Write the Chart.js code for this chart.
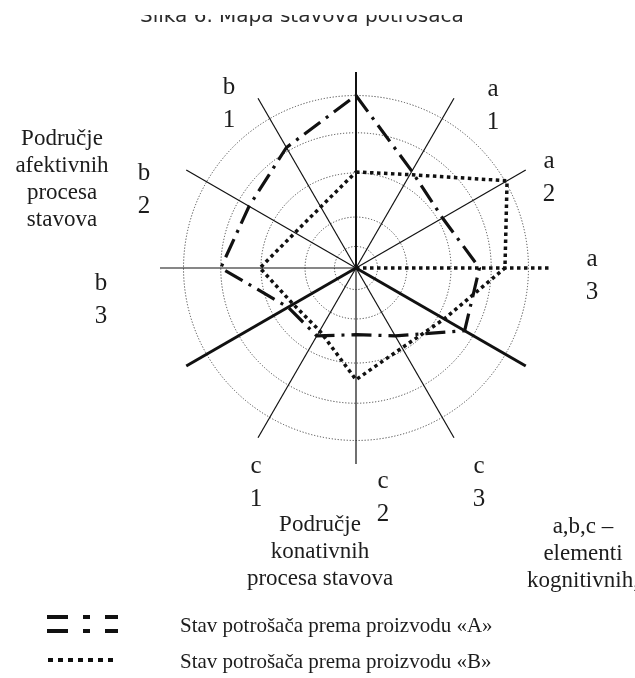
<!DOCTYPE html>
<html>
<head>
<meta charset="utf-8">
<script src="https://cdn.jsdelivr.net/npm/chart.js@4.4.1/dist/chart.umd.min.js"></script>
<style>
    html, body { margin: 0; padding: 0; background: #fff; }
    body { width: 635px; height: 678px; overflow: hidden; position: relative; }
</style>
</head>
<body>
<attitude-map></attitude-map>
<script>
// axes clockwise from the top; empty ones are the thick area borders
const categories = ['', 'a1', 'a2', 'a3', '', 'c3', 'c2', 'c1', '', 'b3', 'b2', 'b1'];
const productA = [8.8, 5.7, 5.1, 6.3, 6.4, 4.0, 3.4, 4.0, 4.0, 6.9, 6.3, 7.1];
const productB = [4.9, 5.5, 8.9, 7.6, 5.2, 4.7, 5.7, 3.7, 3.7, 4.9, 3.6, 3.6];
const ringTicks = [0, 1.1, 2.6, 4.85, 6.9, 8.8];
const seriesNames = ['Stav potrošača prema proizvodu «A»', 'Stav potrošača prema proizvodu «B»'];
const titleText = 'Slika 6. Mapa stavova potrošača';
const areaNotes = [
    ['Područje', 'afektivnih', 'procesa', 'stavova'],
    ['Područje', 'konativnih', 'procesa stavova'],
    ['a,b,c –', 'elementi', 'kognitivnih,']
];

// where the axis labels and notes sit (centre points, px)
const labelPos = {
    a1: [493, 104], a2: [549, 176], a3: [592, 274],
    c3: [479, 481], c2: [383, 496], c1: [256, 481],
    b3: [101, 298], b2: [144, 188], b1: [229, 102]
};
const notePos = [[62, 178], [320, 550], [583, 552]];

class AttitudeMap extends HTMLElement {
    constructor() {
        super();
        this.attachShadow({ mode: 'open' });
        this.shadowRoot.innerHTML = `
            <style>
                .wrap { position: relative; width: 635px; height: 678px; background: #fff; }
                canvas { position: absolute; left: 0; top: 0; }
                .title-clip { position: absolute; left: 0; top: 15px; width: 635px; height: 14px; overflow: hidden; }
                .title { position: absolute; left: 140px; top: -10px; white-space: nowrap;
                         font: 20px/20px "DejaVu Sans", sans-serif; color: #2a2a2a; }
                .lbl, .note { position: absolute; transform: translate(-50%, -50%); text-align: center;
                              font-family: "Liberation Serif", serif; color: #1c1c1c; white-space: nowrap; }
                .lbl { font-size: 25px; line-height: 33px; }
                .note { font-size: 23px; line-height: 27px; }
                .legend { position: absolute; left: 180px; font: 21px "Liberation Serif", serif; color: #1c1c1c;
                          transform: translateY(-50%); white-space: nowrap; }
                svg { position: absolute; left: 0; top: 0; }
            </style>
            <div class="wrap">
                <canvas width="635" height="678"></canvas>
                <div class="title-clip"><div class="title"></div></div>
                <svg width="635" height="678">
                    <line x1="47" y1="617" x2="118" y2="617" stroke="#111" stroke-width="4" stroke-dasharray="21 15 7 15 13"/>
                    <line x1="47" y1="631" x2="118" y2="631" stroke="#111" stroke-width="4" stroke-dasharray="21 15 7 15 13"/>
                    <line x1="48" y1="660" x2="118" y2="660" stroke="#111" stroke-width="4" stroke-dasharray="5 5"/>
                </svg>
            </div>
        `;

        this.wrap = this.shadowRoot.querySelector('.wrap');
        this.shadowRoot.querySelector('.title').textContent = titleText;
        this.canvas = this.shadowRoot.querySelector('canvas');
        this.ctx = this.canvas.getContext('2d');

        this.addTexts();
        this.renderChart();
    }

    addTexts() {
        categories.forEach(c => {
            if (!c) return;
            const d = document.createElement('div');
            d.className = 'lbl';
            d.innerHTML = c[0] + '<br>' + c.slice(1);
            d.style.left = labelPos[c][0] + 'px';
            d.style.top = labelPos[c][1] + 'px';
            this.wrap.appendChild(d);
        });
        areaNotes.forEach((lines, i) => {
            const d = document.createElement('div');
            d.className = 'note';
            d.innerHTML = lines.join('<br>');
            d.style.left = notePos[i][0] + 'px';
            d.style.top = notePos[i][1] + 'px';
            this.wrap.appendChild(d);
        });
        seriesNames.forEach((name, i) => {
            const d = document.createElement('div');
            d.className = 'legend';
            d.textContent = name;
            d.style.top = (i === 0 ? 625 : 661) + 'px';
            this.wrap.appendChild(d);
        });
    }

    renderChart() {
        const data = {
            labels: categories,
            datasets: [{
                label: seriesNames[0],
                data: productA,
                fill: false,
                borderColor: '#111',
                borderWidth: 3.2,
                borderDash: [20, 7, 3, 7],
                pointRadius: 0
            }, {
                label: seriesNames[1],
                data: productB,
                fill: false,
                borderColor: '#111',
                borderWidth: 3.5,
                borderDash: [3.5, 3.5],
                pointRadius: 0
            }]
        };

        new Chart(this.ctx, {
            type: 'radar',
            data: data,
            options: {
                responsive: false,
                animation: false,
                layout: { padding: { left: 160, right: 83, top: 72, bottom: 214 } },
                plugins: { legend: { display: false }, tooltip: { enabled: false } },
                scales: {
                    r: {
                        min: 0,
                        max: 10,
                        afterBuildTicks: scale => { scale.ticks = ringTicks.map(v => ({ value: v })); },
                        ticks: { display: false },
                        pointLabels: { display: false },
                        grid: { circular: true, color: '#444', lineWidth: 1 },
                        border: { dash: [1.2, 1.8] },
                        angleLines: {
                            color: '#111',
                            lineWidth: c => c.index === 3 ? 3.5 : (c.index === 4 || c.index === 8) ? 3 : c.index === 0 ? 2 : 1.2,
                            borderDash: c => c.index === 3 ? [3.5, 3.5] : []
                        }
                    }
                }
            }
        });
    }
}

customElements.define('attitude-map', AttitudeMap);
</script>
</body>
</html>
